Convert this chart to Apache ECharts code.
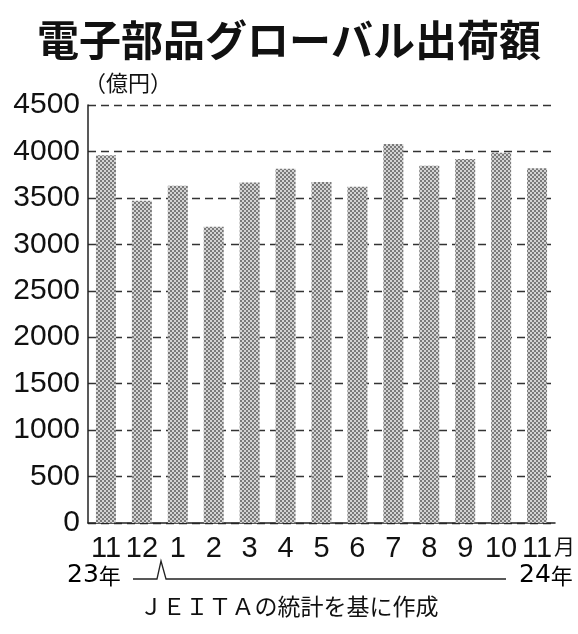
<!DOCTYPE html>
<html><head><meta charset="utf-8">
<script src="https://cdn.jsdelivr.net/npm/echarts@6/dist/echarts.min.js"></script>
<style>html,body{margin:0;padding:0;background:#fff}#c{width:578px;height:634px}</style>
</head><body><div id="c"></div>
<script>
const categories = ['11','12','1','2','3','4','5','6','7','8','9','10','11'];
const shipments = [3960, 3470, 3630, 3190, 3665, 3815, 3670, 3620, 4080, 3845, 3920, 3985, 3820];
const yTicks = [0, 500, 1000, 1500, 2000, 2500, 3000, 3500, 4000, 4500];

// halftone pattern
const pc = document.createElement('canvas');
pc.width = 4; pc.height = 4;
const px = pc.getContext('2d');
px.fillStyle = '#d4d4d4'; px.fillRect(0,0,4,4);
px.fillStyle = '#7a7a7a';
px.fillRect(0,0,2,2); px.fillRect(2,2,2,2);

const numFont = '"Liberation Sans"';
const jpFont = '"Noto Sans CJK JP"';
const yearRich = {
  n: {fontFamily: 'DejaVu Sans', fontSize: 25, color: '#111'},
  k: {fontFamily: jpFont, fontSize: 22, color: '#111'}
};
const chart = echarts.init(document.getElementById('c'), null, {renderer:'canvas'});
chart.setOption({
  backgroundColor: '#fff',
  animation: false,
  grid: {left: 88, right: 23, top: 105, bottom: 111},
  xAxis: {
    type: 'category', data: categories,
    axisLine: {lineStyle: {color: '#222', width: 1.5}},
    axisTick: {show: false},
    axisLabel: {color: '#111', fontFamily: numFont, fontSize: 29, margin: 11, interval: 0}
  },
  yAxis: {
    type: 'value', min: yTicks[0], max: yTicks[yTicks.length-1], interval: 500,
    axisLine: {show: true, lineStyle: {color: '#222', width: 1.5}},
    axisTick: {show: false},
    axisLabel: {color: '#111', fontFamily: numFont, fontSize: 30, margin: 8, formatter: v => String(v)},
    splitLine: {lineStyle: {color: '#333', width: 1.3, type: [8, 5]}}
  },
  series: [{
    type: 'bar', data: shipments, barWidth: 20,
    itemStyle: {color: {image: pc, repeat: 'repeat'}}
  }],
  graphic: [
    {type: 'text', left: 'center', top: 19, style: {text: '電子部品グローバル出荷額', font: 'bold 42px ' + jpFont, fill: '#111'}},
    {type: 'text', x: 84, y: 72, style: {text: '（億円）', font: '22px ' + jpFont, fill: '#111'}},
    {type: 'text', x: 554, y: 536, style: {text: '月', font: '21px ' + jpFont, fill: '#111'}},
    {type: 'text', x: 67, y: 563, style: {text: '{n|23}{k|年}', rich: yearRich}},
    {type: 'text', x: 519, y: 563, style: {text: '{n|24}{k|年}', rich: yearRich}},
    {type: 'polyline', shape: {points: [[133,579],[157,579],[161,561],[166,579],[506,579]]}, style: {stroke: '#222', lineWidth: 1.3, fill: null}},
    {type: 'text', left: 'center', top: 595, style: {text: 'ＪＥＩＴＡの統計を基に作成', font: '23px ' + jpFont, fill: '#111'}}
  ]
});
</script></body></html>
